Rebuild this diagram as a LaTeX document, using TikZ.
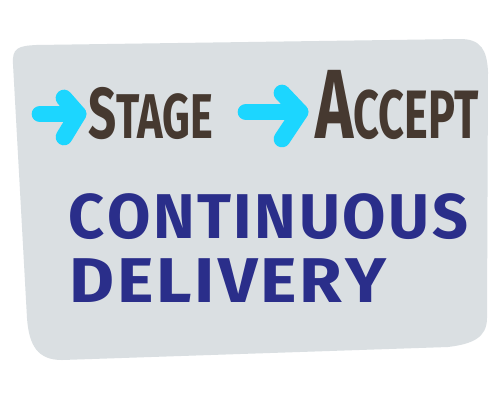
\documentclass[tikz,border=0pt]{standalone}
\usepackage{fontspec}
\setmainfont{Fira Sans}
\usepackage{graphicx}
\definecolor{panel}{RGB}{218,223,226}
\definecolor{cyanarrow}{RGB}{28,214,255}
\definecolor{brownink}{RGB}{70,57,48}
\definecolor{blueink}{RGB}{42,46,138}
\newcommand{\lsp}{\kern1.5pt}
\tikzset{
  arrowstroke/.style={draw=cyanarrow, line width=9.5pt, line cap=round, line join=round},
  inktext/.style={inner sep=0pt, anchor=base west, font=\bfseries},
  bluetext/.style={inner sep=0pt, anchor=base west, font=\bfseries, text=blueink}
}
\begin{document}
\begin{tikzpicture}[x=0.02cm,y=-0.02cm]
\useasboundingbox[fill=white] (0,0) rectangle (500,400);
% panel
\fill[panel] (13,64) .. controls (12,48) and (18,46) .. (36,45)
  -- (460,39) .. controls (481,39) and (487,50) .. (488,72)
  -- (487,318) .. controls (487,338) and (472,344) .. (448,347)
  -- (62,360) .. controls (38,360) and (29,346) .. (27,318) -- cycle;
% arrows
\draw[arrowstroke] (40,114) -- (78,114);
\draw[arrowstroke] (64,98) -- (78,114) -- (64,137);
\draw[arrowstroke] (246,112) -- (300,112);
\draw[arrowstroke] (282,93) -- (300,112) -- (282,139);
% texts
\node[inktext, text=brownink] (stage) at (88,138)
  {\resizebox{2.5cm}{\height}{\fontsize{41}{41}\selectfont S\fontsize{36}{36}\selectfont TAGE}};
\node[inktext, text=brownink] (accept) at (315,138)
  {\resizebox{3.26cm}{\height}{\fontsize{56}{56}\selectfont A\fontsize{39}{39}\selectfont CCEPT}};
\node[bluetext] (continuous) at (68,238)
  {\resizebox{8.0cm}{\height}{\fontsize{36}{36}\selectfont C\lsp O\lsp N\lsp T\lsp I\lsp N\lsp U\lsp O\lsp U\lsp S}};
\node[bluetext] (delivery) at (69,302)
  {\resizebox{6.34cm}{\height}{\fontsize{36}{36}\selectfont D\lsp E\lsp L\lsp I\lsp V\lsp E\lsp R\lsp Y}};
\end{tikzpicture}
\end{document}
